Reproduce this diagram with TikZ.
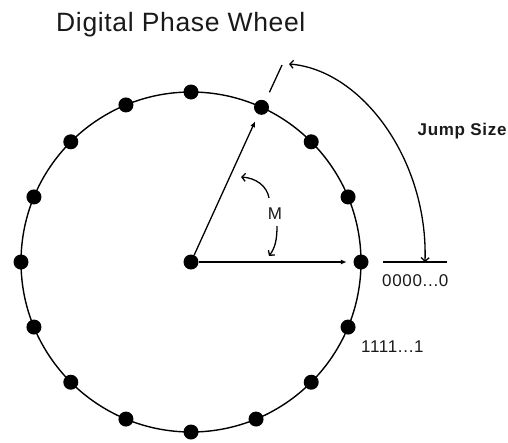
\documentclass[tikz,border=0pt]{standalone}
\usepackage{fontspec}
\setmainfont{Liberation Sans}
\newfontfamily\lblfont[LetterSpace=4]{Liberation Sans}
\newfontfamily\ttlfont[LetterSpace=2.5]{Liberation Sans}
\usetikzlibrary{arrows.meta}
\begin{document}
\begin{tikzpicture}[x=1pt,y=-1pt,
  dot/.style={circle,fill=black,inner sep=0pt,minimum size=15pt},
  wheel/.style={line width=1.4pt},
  plain/.style={line width=1.3pt},
  radial/.style={line width=1.3pt,-{Latex[length=6pt,width=5pt]}},
  curvearrow/.style={line width=1.3pt,-{Straight Barb[length=3.5pt,width=8pt]}},
  lbl/.style={inner sep=0pt,text=black!90,font=\lblfont\fontsize{17}{20}\selectfont},
  ttl/.style={inner sep=0pt,text=black!90,font=\ttlfont\fontsize{26.5}{30}\selectfont}]
\useasboundingbox (0,0) rectangle (508,442);
% title
\node[ttl,anchor=base west] (title) at (56,31) {Digital Phase Wheel};
% wheel
\node[dot] (c) at (191,262) {};
\draw[wheel] (c.center) circle[radius=170pt];
\foreach \i/\a in {0/0,1/22.5,2/45,3/65.5,4/90,5/112.5,6/135,7/157.5,8/180,9/202.5,10/225,11/247.5,12/270,13/292.5,14/315,15/337.5}
  \node[dot] (d\i) at ([shift={(\a:170pt)}]c.center) {};
% radial arrows
\draw[radial,shorten >=6.5pt] (c) -- (d0);
\draw[radial,shorten >=7.5pt] (c) -- (d3);
% tick beyond the wheel
\coordinate (t1) at ([shift={(65.2:187pt)}]c.center);
\coordinate (t2) at ([shift={(65.2:217pt)}]c.center);
\draw[plain] (t1) -- (t2);
% zero line
\coordinate (h1) at (383,262);
\coordinate (h2) at (447,262);
\draw[plain] (h1) -- (h2);
% jump size arrow
\coordinate (j1) at (289,64);
\coordinate (j2) at (425,262);
\draw[plain,{Straight Barb[length=3.5pt,width=8pt]}-{Straight Barb[length=3.5pt,width=8pt]}]
  (j1) .. controls (362,70) and (428,160) .. (j2);
% labels
\node[lbl,font=\lblfont\fontsize{17}{20}\selectfont\bfseries,anchor=base west] (js) at (417.5,135.5) {Jump Size};
\node[lbl,anchor=base west] (z) at (382,286.5) {0000...0};
\node[lbl,anchor=base west] (o) at (361,352.5) {1111...1};
\node[lbl] (m) at (275,214) {M};
% M arrows
\coordinate (m1) at (269,198);
\coordinate (ma) at (241,177);
\coordinate (m2) at (277,226);
\coordinate (mb) at (269,256);
\draw[curvearrow] (m1) .. controls (267,186) and (256,178) .. (ma);
\draw[curvearrow] (m2) .. controls (277,240) and (275,248) .. (mb);
\end{tikzpicture}
\end{document}
